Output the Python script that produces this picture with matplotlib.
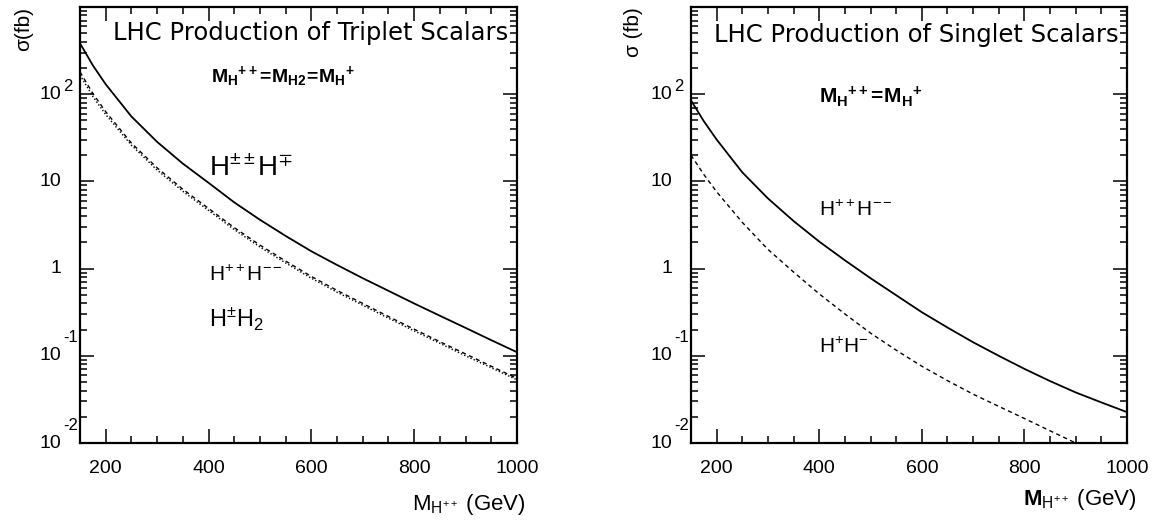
import matplotlib
matplotlib.use("Agg")
import matplotlib.pyplot as plt
from matplotlib.ticker import FixedLocator, NullFormatter, LogLocator
from matplotlib.transforms import offset_copy

plt.rcParams['font.family'] = ['Liberation Sans', 'DejaVu Sans']
plt.rcParams['mathtext.fontset'] = 'custom'
plt.rcParams['mathtext.rm'] = 'Liberation Sans'
plt.rcParams['mathtext.it'] = 'Liberation Sans:italic'
plt.rcParams['mathtext.bf'] = 'Liberation Sans:bold'

# Higgs mass grid (GeV)
mass = [150, 175, 200, 250, 300, 350, 400, 450, 500, 550, 600,
        650, 700, 750, 800, 850, 900, 950, 1000]

# triplet scalars, sigma in fb
trip_hpp_hm = [384, 214, 130, 55.5, 28.4, 16.0, 9.64, 5.75, 3.63, 2.37, 1.58,
               1.10, 0.776, 0.556, 0.398, 0.288, 0.209, 0.151, 0.110]
trip_hpp_hmm = [180, 102, 63, 27.5, 14.3, 8.13, 4.9, 2.95, 1.86, 1.22, 0.813,
                0.562, 0.398, 0.282, 0.202, 0.145, 0.105, 0.0759, 0.055]
trip_hp_h2 = [166, 94, 58.5, 26, 13.5, 7.7, 4.65, 2.8, 1.77, 1.16, 0.775,
              0.536, 0.38, 0.27, 0.193, 0.139, 0.100, 0.073, 0.053]

# singlet scalars, sigma in fb
sing_hpp_hmm = [85, 49, 30.2, 12.7, 6.38, 3.51, 2.04, 1.245, 0.776, 0.495, 0.316,
                0.211, 0.143, 0.100, 0.0708, 0.0513, 0.038, 0.0292, 0.0226]
sing_hp_hm = [20, 12, 7.6, 3.39, 1.66, 0.912, 0.513, 0.302, 0.182, 0.116, 0.0759,
              0.0519, 0.0363, 0.0263, 0.0191, 0.0138, 0.0100, 0.0074, 0.0055]

x_major = [200, 400, 600, 800, 1000]
y_decades = [1e-2, 1e-1, 1, 10, 1e2]
y_base = ['10', '10', '1', '10', '10']
y_expo = ['-2', '-1', '', '', '2']

fig = plt.figure(figsize=(11.57, 5.27), dpi=100)
ax1 = fig.add_axes([80 / 1157, 84 / 527, 437 / 1157, 436 / 527])
ax2 = fig.add_axes([691 / 1157, 84 / 527, 436 / 1157, 436 / 527])


def style_axes(ax):
    ax.set_yscale('log')
    ax.set_xlim(150, 1000)
    ax.set_ylim(1e-2, 1e3)
    for sp in ax.spines.values():
        sp.set_linewidth(1.6)
    ax.xaxis.set_major_locator(FixedLocator(x_major))
    ax.xaxis.set_minor_locator(FixedLocator(range(150, 1001, 50)))
    ax.yaxis.set_major_locator(LogLocator(base=10, numticks=10))
    ax.yaxis.set_minor_locator(LogLocator(base=10, subs=range(2, 10), numticks=20))
    ax.yaxis.set_major_formatter(NullFormatter())
    ax.yaxis.set_minor_formatter(NullFormatter())
    ax.tick_params(which='both', direction='in', top=True, right=True, width=1.1)
    ax.tick_params(which='major', length=10)
    ax.tick_params(which='minor', length=5)
    ax.tick_params(axis='x', labelsize=14, pad=12)
    # decade labels: base left of the axis, exponent raised next to it
    trans = ax.get_yaxis_transform()
    base_tr = offset_copy(trans, fig=fig, x=-19, y=0, units='dots')
    for val, b, e in zip(y_decades, y_base, y_expo):
        ax.text(0, val, b, transform=base_tr, ha='right', va='center',
                fontsize=14, clip_on=False)
        if e:
            rise = 8 if e == '2' else 18
            exp_tr = offset_copy(trans, fig=fig, x=-17, y=rise, units='dots')
            ax.text(0, val, e, transform=exp_tr, ha='left', va='center',
                    fontsize=12, clip_on=False)


style_axes(ax1)
style_axes(ax2)

# left panel: triplet
ax1.plot(mass, trip_hpp_hm, color='black', lw=1.3)
ax1.plot(mass, trip_hpp_hmm, color='black', lw=1.0, dashes=(3, 2.5))
ax1.plot(mass, trip_hp_h2, color='black', lw=1.0, dashes=(1, 1.5))
ax1.text(0.98, 0.94, 'LHC Production of Triplet Scalars', transform=ax1.transAxes,
         ha='right', va='center', fontsize=17.5, family='DejaVu Sans')
ax1.text(405, 160, r'$\mathbf{M_H{}^{++}\!=\!M_{H2}\!=\!M_H{}^{+}}$', ha='left',
         va='center', fontsize=14)
ax1.text(400, 14, r'$\mathregular{H^{\pm\pm}H^{\mp}}$', ha='left', va='center', fontsize=20)
ax1.text(400, 0.85, r'$\mathregular{H^{++}H^{--}}$', ha='left', va='center', fontsize=15)
ax1.text(400, 0.26, r'$\mathregular{H^{\pm}H_{2}}$', ha='left', va='center', fontsize=17)
ax1.text(-0.13, 1.0, 'σ(fb)', transform=ax1.transAxes, rotation=90,
         ha='center', va='top', fontsize=15)
ax1.text(1.02, -0.14, r'$\mathregular{M_{H^{++}}}$ (GeV)', transform=ax1.transAxes,
         ha='right', va='center', fontsize=16)

# right panel: singlet
ax2.plot(mass, sing_hpp_hmm, color='black', lw=1.3)
ax2.plot(mass, sing_hp_hm, color='black', lw=1.0, dashes=(3, 2.5))
ax2.text(0.98, 0.935, 'LHC Production of Singlet Scalars', transform=ax2.transAxes,
         ha='right', va='center', fontsize=17.5, family='DejaVu Sans')
ax2.text(400, 93, r'$\mathbf{M_H{}^{++}\!=\!M_H{}^{+}}$', ha='left', va='center',
         fontsize=15)
ax2.text(400, 4.7, r'$\mathregular{H^{++}H^{--}}$', ha='left', va='center', fontsize=15)
ax2.text(400, 0.125, r'$\mathregular{H^{+}H^{-}}$', ha='left', va='center', fontsize=15)
ax2.text(-0.133, 1.0, 'σ (fb)', transform=ax2.transAxes, rotation=90,
         ha='center', va='top', fontsize=15)
ax2.text(1.023, -0.13, r'$\mathbf{M}_{\mathregular{H^{++}}}$ (GeV)', transform=ax2.transAxes,
         ha='right', va='center', fontsize=16)

fig.savefig('out.png', dpi=100)
